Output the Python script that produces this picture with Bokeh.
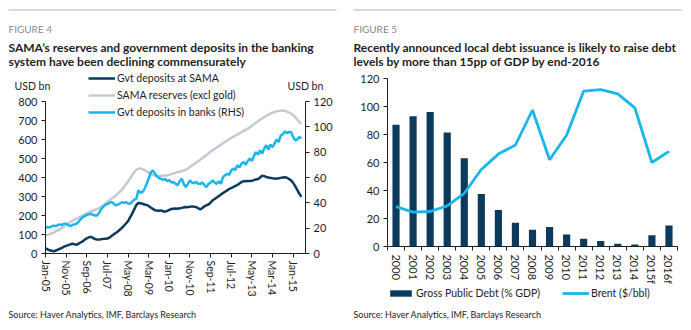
from bokeh.plotting import figure
from bokeh.models import (Range1d, LinearAxis, FixedTicker, Legend, LegendItem, Label,
                          BoxAnnotation)
from bokeh.layouts import row, column
from bokeh.embed import file_html
from bokeh.resources import INLINE

FONT = "Lato"
NAVY = "#0c3a5c"
GREY = "#c2cbd3"
CYAN = "#19b6ec"
INK = "#1e1e1e"
MUTED = "#8a8a8a"
RULE = "#b4b4b4"
NAN = float("nan")

# ---- Figure 4: monthly series from Jan-05 (USD bn) ----
gvt_deposits_sama = [
    27, 22, 17, 14, 12, 16, 20, 25, 30, 36,
    40, 44, 48, 51, 49, 45, 52, 58, 64, 72,
    80, 85, 88, 82, 76, 74, 73, 75, 77, 78,
    79, 84, 92, 100, 108, 115, 125, 135, 146, 158,
    170, 190, 210, 232, 255, 266, 264, 262, 258, 256,
    250, 242, 235, 228, 226, 225, 227, 222, 220, 224,
    230, 234, 236, 237, 236, 238, 240, 243, 245, 244,
    246, 248, 246, 245, 238, 232, 240, 248, 254, 258,
    268, 280, 287, 295, 303, 310, 318, 325, 332, 340,
    344, 350, 356, 360, 368, 376, 381, 380, 382, 381,
    383, 386, 390, 392, 400, 410, 407, 403, 400, 398,
    396, 395, 394, 396, 398, 400, 401, 399, 392, 385,
    372, 355, 335, 315, 298,
]
sama_reserves = [
    95, 98, 102, 106, 110, 116, 122, 128, 135, 142,
    150, 157, 165, 172, 178, 183, 188, 194, 200, 206,
    212, 217, 221, 225, 229, 234, 240, 246, 253, 262,
    272, 280, 288, 296, 305, 315, 325, 336, 350, 365,
    380, 395, 412, 428, 440, 446, 448, 444, 438, 432,
    425, 418, 413, 410, 408, 407, 408, 409, 410, 412,
    415, 418, 421, 424, 428, 431, 434, 437, 440, 448,
    456, 463, 470, 478, 486, 494, 502, 510, 518, 527,
    536, 543, 550, 558, 565, 572, 580, 587, 594, 601,
    608, 614, 620, 626, 632, 638, 645, 651, 657, 664,
    672, 680, 688, 696, 704, 711, 718, 725, 731, 737,
    741, 745, 748, 750, 752, 753, 751, 747, 742, 736,
    729, 718, 705, 692, 682,
]
gvt_deposits_banks = [
    20, 21, 20.5, 21.5, 22, 21.5, 22.5, 23, 22.5, 23.5,
    23.5, 22.5, 21.5, 22.5, 23, 23.5, 25, 27, 28.7, 29.5,
    30.5, 31, 31.4, 30.5, 30, 30, 32, 35, 37, 38.5,
    39, 40, 40.6, 39.5, 38, 38.5, 39.5, 40.5, 40, 40.6,
    39.5, 39.3, 41, 42.5, 43.2, 49.8, 48, 48.5, 51, 55,
    59, 64, 65.6, 63, 61, 59.5, 59, 58, 59, 57,
    58, 56, 56.4, 55, 53.8, 57, 59, 55, 52.4, 55,
    57.7, 56, 55.5, 56.5, 55, 55, 56, 54, 52.4, 55,
    56, 57.7, 56, 55, 57, 55, 60.3, 61.7, 63, 62,
    65.6, 67, 66, 69.6, 68, 71, 72.2, 70, 73, 74.9,
    73, 77, 80, 78, 81.4, 79, 83, 85.4, 82, 86,
    84, 86.7, 90, 88, 93.3, 94, 96.4, 95, 96, 95.9,
    92, 89.3, 90, 91.9, 91,
]
month_tick_labels = ["Jan-05", "Nov-05", "Sep-06", "Jul-07", "May-08", "Mar-09",
                     "Jan-10", "Nov-10", "Sep-11", "Jul-12", "May-13", "Mar-14", "Jan-15"]

# ---- Figure 5: annual values ----
years = ["2000", "2001", "2002", "2003", "2004", "2005", "2006", "2007", "2008",
         "2009", "2010", "2011", "2012", "2013", "2014", "2015f", "2016f"]
gross_public_debt = [87, 93, 96, 81.5, 63, 37.5, 26, 17, 12, 14, 8.5, 5.5, 4, 2, 1.5, 8, 15]
brent = [28.5, 24.5, 25, 29, 38, 55, 66, 72.5, 97.5, 62, 79.5, 111, 112, 109, 99, 60, 68]

SOURCE = "Source: Haver Analytics, IMF, Barclays Research"


def style_axis(ax, size="11px"):
    ax.axis_line_color = INK
    ax.major_tick_line_color = INK
    ax.major_tick_in = 0
    ax.major_tick_out = 4
    ax.minor_tick_line_color = None
    ax.major_label_text_font = FONT
    ax.major_label_text_font_size = size
    ax.major_label_text_color = INK
    ax.major_label_standoff = 4


def strip(width, height):
    """A plain text strip: no axes, data coordinates = pixels from its top-left."""
    p = figure(width=width, height=height, output_backend="svg", toolbar_location=None,
               x_range=Range1d(0, width), y_range=Range1d(height, 0),
               x_axis_location=None, y_axis_location=None, min_border=0,
               frame_align=False)
    p.outline_line_color = None
    p.grid.visible = False
    return p


def put(p, x, y, text, size, color=INK, style="normal"):
    p.add_layout(Label(x=x, y=y, text=text, text_font=FONT, text_font_size=size,
                       text_color=color, text_font_style=style,
                       text_baseline="alphabetic"))


def header(width, height, fig_no, line1, line2):
    p = strip(width, height)
    p.add_layout(BoxAnnotation(left=8, right=336, top=9, bottom=10, fill_color=RULE,
                               fill_alpha=1, line_color=None))
    put(p, 8, 28, fig_no, "10px", MUTED)
    put(p, 8, 47, line1, "12px", INK, "bold")
    put(p, 8, 61, line2, "12px", INK, "bold")
    return p


def legend(items, location, **kw):
    opts = dict(location=location, orientation="vertical", padding=0, margin=0,
                spacing=3, glyph_width=27, glyph_height=14, label_height=14,
                label_standoff=2, label_text_font=FONT, label_text_font_size="10.5px",
                label_text_color=INK, border_line_color=None, background_fill_alpha=0)
    opts.update(kw)
    return Legend(items=items, **opts)


# ================= Figure 4 =================
top1 = header(345, 90, "FIGURE 4",
              "SAMA\u2019s reserves and government deposits in the banking",
              "system have been declining commensurately")
put(top1, 14, 85, "USD bn", "10.5px")
put(top1, 287, 85, "USD bn", "10.5px")
# legend key for the navy series (its row sits above the chart frame)
key_navy = top1.line(x=[NAN], y=[NAN], line_color=NAVY, line_width=2.5)
top1.add_layout(legend([LegendItem(label="Gvt deposits at SAMA", renderers=[key_navy])],
                       (88, 5)))

months = list(range(len(gvt_deposits_sama)))
main1 = figure(width=345, height=212, output_backend="svg", toolbar_location=None,
               x_range=Range1d(0, 126), y_range=Range1d(0, 800 * 163 / 152),
               min_border_left=45, min_border_right=40, min_border_top=0, min_border_bottom=49,
               frame_align=False)
main1.outline_line_color = None
main1.grid.visible = False
main1.extra_y_ranges = {"rhs": Range1d(0, 120 * 163 / 152)}

r_grey = main1.line(months, sama_reserves, line_color=GREY, line_width=2.5)
r_cyan = main1.line(months, gvt_deposits_banks, line_color=CYAN, line_width=2.5,
                    y_range_name="rhs")
r_navy = main1.line(months, gvt_deposits_sama, line_color=NAVY, line_width=2.5)

xax = main1.xaxis[0]
xax.ticker = FixedTicker(ticks=[10 * i for i in range(len(month_tick_labels))])
xax.major_label_overrides = {10 * i: lab for i, lab in enumerate(month_tick_labels)}
xax.major_label_orientation = "vertical"
style_axis(xax, "10.5px")
xax.major_label_standoff = 3

yax = main1.yaxis[0]
yax.ticker = FixedTicker(ticks=list(range(0, 801, 100)))
yax.bounds = (0, 800)
style_axis(yax)

rax = LinearAxis(y_range_name="rhs", ticker=FixedTicker(ticks=list(range(0, 121, 20))),
                 bounds=(0, 120))
style_axis(rax)
main1.add_layout(rax, "right")

main1.add_layout(legend([LegendItem(label="SAMA reserves (excl gold)", renderers=[r_grey]),
                         LegendItem(label="Gvt deposits in banks (RHS)", renderers=[r_cyan])],
                        (43, 134)))

bot1 = strip(345, 28)
put(bot1, 8, 12, SOURCE, "9px")

# ================= Figure 5 =================
top2 = header(346, 70, "FIGURE 5",
              "Recently announced local debt issuance is likely to raise debt",
              "levels by more than 15pp of GDP by end-2016")

idx = list(range(len(years)))
main2 = figure(width=346, height=216, output_backend="svg", toolbar_location=None,
               x_range=Range1d(-0.5, len(years) - 0.5), y_range=Range1d(0, 120),
               min_border_left=42, min_border_right=14, min_border_top=8, min_border_bottom=40,
               frame_align=False)
main2.outline_line_color = None
main2.grid.visible = False

main2.vbar(x=idx, top=gross_public_debt, width=0.42, fill_color=NAVY, line_color=None)
main2.line(idx, brent, line_color=CYAN, line_width=2.8)

x2 = main2.xaxis[0]
x2.ticker = FixedTicker(ticks=idx, minor_ticks=[i - 0.5 for i in range(len(years) + 1)])
x2.major_label_overrides = {i: y for i, y in enumerate(years)}
x2.major_label_orientation = "vertical"
style_axis(x2)
x2.major_tick_line_color = None
x2.minor_tick_line_color = INK
x2.minor_tick_in = 0
x2.minor_tick_out = 4
x2.major_label_standoff = 4

y2 = main2.yaxis[0]
y2.ticker = FixedTicker(ticks=list(range(0, 121, 20)))
style_axis(y2)

bot2 = strip(346, 44)
# legend keys styled like the chart's bars and line
key_bar = bot2.vbar(x=[NAN], top=[NAN], width=1, fill_color=NAVY, line_color=None)
key_line = bot2.line(x=[NAN], y=[NAN], line_color=CYAN, line_width=2.8)
bot2.add_layout(legend([LegendItem(label="Gross Public Debt (% GDP)", renderers=[key_bar]),
                        LegendItem(label="Brent ($/bbl)", renderers=[key_line])],
                       (42, 31), orientation="horizontal", spacing=22,
                       glyph_height=8, label_height=8))
put(bot2, 8, 28, SOURCE, "9px")

layout = row(column(top1, main1, bot1), column(top2, main2, bot2))
open("out.html", "w").write(file_html(layout, INLINE))
